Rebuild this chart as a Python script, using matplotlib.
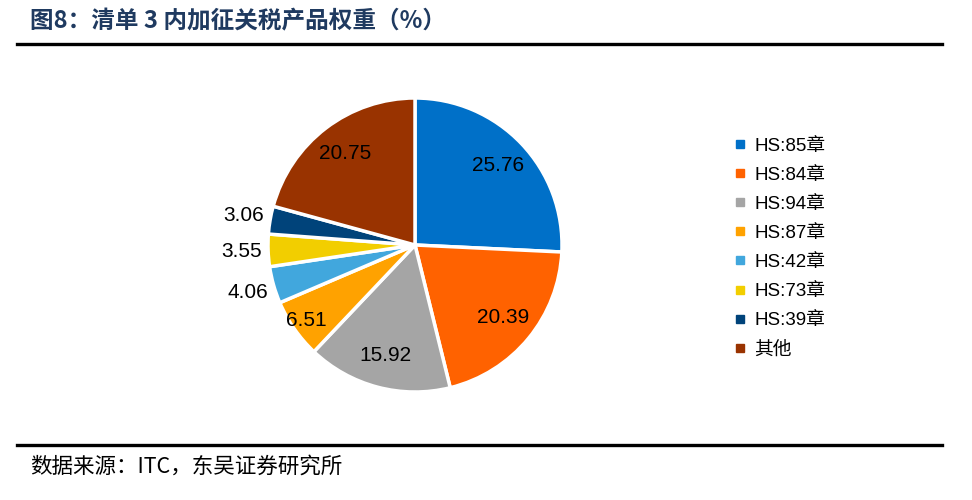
import matplotlib
matplotlib.use("Agg")
import matplotlib.pyplot as plt
from matplotlib.lines import Line2D
import numpy as np

plt.rcParams["font.family"] = ["Liberation Sans", "Noto Sans CJK SC", "DejaVu Sans"]

CATEGORIES = ["HS:85章", "HS:84章", "HS:94章", "HS:87章", "HS:42章", "HS:73章", "HS:39章", "其他"]
WEIGHTS = [25.76, 20.39, 15.92, 6.51, 4.06, 3.55, 3.06, 20.75]
COLORS = ["#0070C8", "#FF6200", "#A5A5A5", "#FFA200", "#41A7DD", "#F2CE00", "#00437A", "#993300"]

W, H = 972, 500
fig = plt.figure(figsize=(W / 100, H / 100), dpi=100)

# title, rules and source
fig.text(30 / W, 1 - 21 / H, "图8：清单 3 内加征关税产品权重（%）", fontsize=17,
         fontweight="bold", color="#1F3A60", va="center", ha="left",
         family=["Noto Sans CJK SC", "DejaVu Sans"])
fig.add_artist(Line2D([17 / W, 942 / W], [1 - 44 / H, 1 - 44 / H], color="black", lw=2.4))
fig.add_artist(Line2D([17 / W, 942 / W], [1 - 445 / H, 1 - 445 / H], color="black", lw=2.4))
fig.text(30 / W, 1 - 467 / H, "数据来源：ITC，东吴证券研究所", fontsize=15.5,
         color="black", va="center", ha="left",
         family=["Noto Sans CJK SC", "DejaVu Sans"])

# pie
cx, cy, R = 415, 245, 147
half = 150
ax = fig.add_axes([(cx - half) / W, (H - cy - half) / H, 2 * half / W, 2 * half / H])

wedges, _ = ax.pie(WEIGHTS, colors=COLORS, startangle=90, counterclock=False,
                   radius=1.0, wedgeprops=dict(edgecolor="white", linewidth=2.5))
lim = half / R
ax.set_xlim(-lim, lim)
ax.set_ylim(-lim, lim)
ax.set_aspect("equal")
ax.axis("off")

for w, val in zip(wedges, WEIGHTS):
    ang = np.deg2rad((w.theta1 + w.theta2) / 2)
    if val > 10:
        r = 0.78
    elif val > 5:
        r = 0.90
    else:
        r = 1.18
    ax.text(r * np.cos(ang), r * np.sin(ang), f"{val:.2f}", ha="center", va="center",
            fontsize=15, color="black", clip_on=False)

handles = [Line2D([], [], marker="s", linestyle="none", markersize=5.5,
                  markerfacecolor=c, markeredgecolor=c) for c in COLORS]
fig.legend(handles, CATEGORIES, loc="upper left", bbox_to_anchor=(724 / W, 1 - 128 / H),
           frameon=False, fontsize=13.5, handlelength=0.7, handletextpad=0.4,
           labelspacing=0.64, borderpad=0)

fig.savefig("out.png", dpi=100)
